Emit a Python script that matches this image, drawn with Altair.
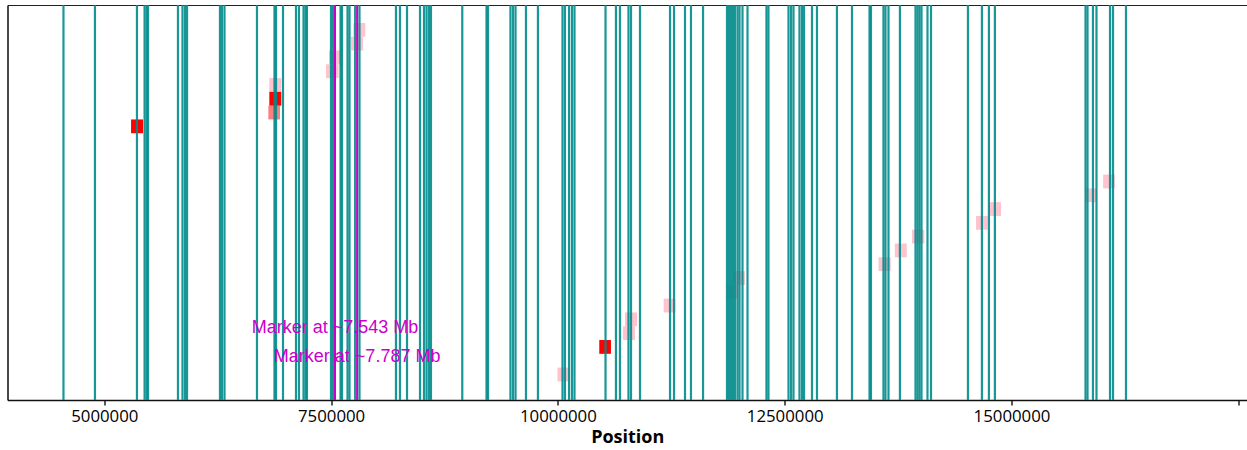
import altair as alt
import pandas as pd

# ---- data ----
teal_positions_mb = [
    4.550, 4.897, 5.360, 5.444, 5.466, 5.482, 5.812, 5.862, 5.890, 5.912,
    6.275, 6.297, 6.325, 6.683, 6.876, 6.893, 6.970, 7.113, 7.146, 7.196,
    7.218, 7.234, 7.499, 7.521, 7.604, 7.620, 7.681, 7.703, 7.765, 7.813,
    8.215, 8.259, 8.337, 8.480, 8.524, 8.552, 8.579, 8.601, 8.946, 9.213,
    9.230, 9.477, 9.505, 9.533, 9.648, 9.780, 10.051, 10.078, 10.123, 10.155,
    10.183, 10.525, 10.640, 10.684, 10.778, 10.806, 10.905, 11.236, 11.280, 11.401,
    11.467, 11.600, 11.864, 11.886, 11.908, 11.930, 11.952, 11.980, 12.002, 12.035,
    12.090, 12.299, 12.321, 12.542, 12.570, 12.597, 12.663, 12.691, 12.713, 12.801,
    12.856, 13.076, 13.242, 13.435, 13.451, 13.589, 13.611, 13.644, 13.770, 13.942,
    13.964, 13.986, 14.008, 14.074, 14.113, 14.520, 14.674, 14.751, 14.817, 15.816,
    15.838, 15.898, 15.937, 16.086, 16.119, 16.262,
]

rect_start_mb = [5.295, 6.819, 6.819, 6.808, 7.444, 7.477, 7.719, 7.745,
                 9.995, 10.456, 10.718, 10.740, 11.166, 11.853, 11.930,
                 13.534, 13.714, 13.903, 14.609, 14.755, 15.811, 16.010]
rect_end_mb = [5.427, 6.951, 6.951, 6.937, 7.582, 7.609, 7.852, 7.877,
               10.127, 10.585, 10.850, 10.872, 11.298, 11.985, 12.062,
               13.668, 13.846, 14.039, 14.737, 14.884, 15.943, 16.139]
rect_row = [7, 4, 5, 6, 3, 2, 1, 0,
            25, 23, 22, 21, 20, 19, 18,
            17, 16, 15, 14, 13, 12, 11]
rect_kind = ["red", "pink", "red", "coral", "pink", "pink", "pink", "pink",
             "pink", "red", "pink", "pink", "pink", "pink", "pink",
             "pink", "pink", "pink", "pink", "pink", "pink", "pink"]

marker_positions = [7543000, 7787000]
marker_labels = ["Marker at ~7.543 Mb", "Marker at ~7.787 Mb"]
marker_label_rows = [22.5, 24.57]

tick_values = [5000000, 7500000, 10000000, 12500000, 15000000, 17500000]
x_domain = [3933000, 17596000]
y_domain = [-1.3, 27.35]

# ---- tables ----
teal_df = pd.DataFrame({"pos": [round(v * 1e6) for v in teal_positions_mb]})
rect_df = pd.DataFrame({
    "start": [round(v * 1e6) for v in rect_start_mb],
    "end": [round(v * 1e6) for v in rect_end_mb],
    "row": rect_row,
    "row2": [r + 1 for r in rect_row],
    "kind": rect_kind,
})
marker_df = pd.DataFrame({"pos": marker_positions, "label": marker_labels,
                          "row": marker_label_rows})

xscale = alt.Scale(domain=x_domain, nice=False, zero=False)
yscale = alt.Scale(domain=y_domain, reverse=True, nice=False, zero=False)

y_axis = alt.Axis(labels=False, ticks=False, title=None, grid=False,
                  domain=True, domainColor="#111111", domainWidth=1.5)

bottom_axis = alt.Axis(values=tick_values, format="d", title="Position",
                       labelExpr="datum.value > 17000000 ? '' : datum.label",
                       labelFont="Open Sans", labelFontSize=16.8, labelColor="#000000",
                       labelPadding=3, tickSize=5, tickWidth=1.3, tickColor="#000000",
                       domainColor="#111111", domainWidth=1.4, grid=False,
                       titleFont="Open Sans", titleFontSize=18, titleFontWeight="bold",
                       titleColor="#000000", titlePadding=4, labelOverlap=False)

top_axis = alt.Axis(orient="top", labels=False, ticks=False, title=None, grid=False,
                    domain=True, domainColor="#222222", domainWidth=1.2)

pink = alt.Chart(rect_df).transform_filter(alt.datum.kind == "pink").mark_rect(
    color="#ffc0cb", opacity=0.95
).encode(
    x=alt.X("start:Q", scale=xscale, axis=bottom_axis),
    x2="end:Q",
    y=alt.Y("row:Q", scale=yscale, axis=y_axis),
    y2="row2:Q",
)

red = alt.Chart(rect_df).transform_filter(alt.datum.kind == "red").mark_rect(
    color="#ff0000", opacity=1
).encode(
    x=alt.X("start:Q", scale=xscale, axis=None),
    x2="end:Q",
    y=alt.Y("row:Q", scale=yscale, axis=y_axis),
    y2="row2:Q",
)

coral = alt.Chart(rect_df).transform_filter(alt.datum.kind == "coral").mark_rect(
    color="#ff0000", opacity=0.5
).encode(
    x=alt.X("start:Q", scale=xscale, axis=None),
    x2="end:Q",
    y=alt.Y("row:Q", scale=yscale, axis=y_axis),
    y2="row2:Q",
)

teal = alt.Chart(teal_df).mark_rule(color="#008b8b", strokeWidth=2.2, opacity=0.9).encode(
    x=alt.X("pos:Q", scale=xscale, axis=top_axis),
)

markers = alt.Chart(marker_df).mark_rule(color="#c800c8", strokeWidth=2).encode(
    x=alt.X("pos:Q", scale=xscale, axis=None),
)

texts = alt.Chart(marker_df).mark_text(
    color="#cc00cc", font="Liberation Sans", fontSize=18, align="center",
    baseline="alphabetic"
).encode(
    x=alt.X("pos:Q", scale=xscale, axis=None),
    y=alt.Y("row:Q", scale=yscale, axis=y_axis),
    text="label:N",
)

chart = alt.layer(pink, red, coral, teal, markers, texts).resolve_axis(
    x="independent"
).properties(
    width=1239.5,
    height=395,
    padding={"left": 7.5, "top": 5, "right": 0, "bottom": 50},
    autosize=alt.AutoSizeParams(type="none"),
).configure_view(stroke=None).configure(background="white")

chart.save("out.html", embed_options={"renderer": "svg", "actions": False})
